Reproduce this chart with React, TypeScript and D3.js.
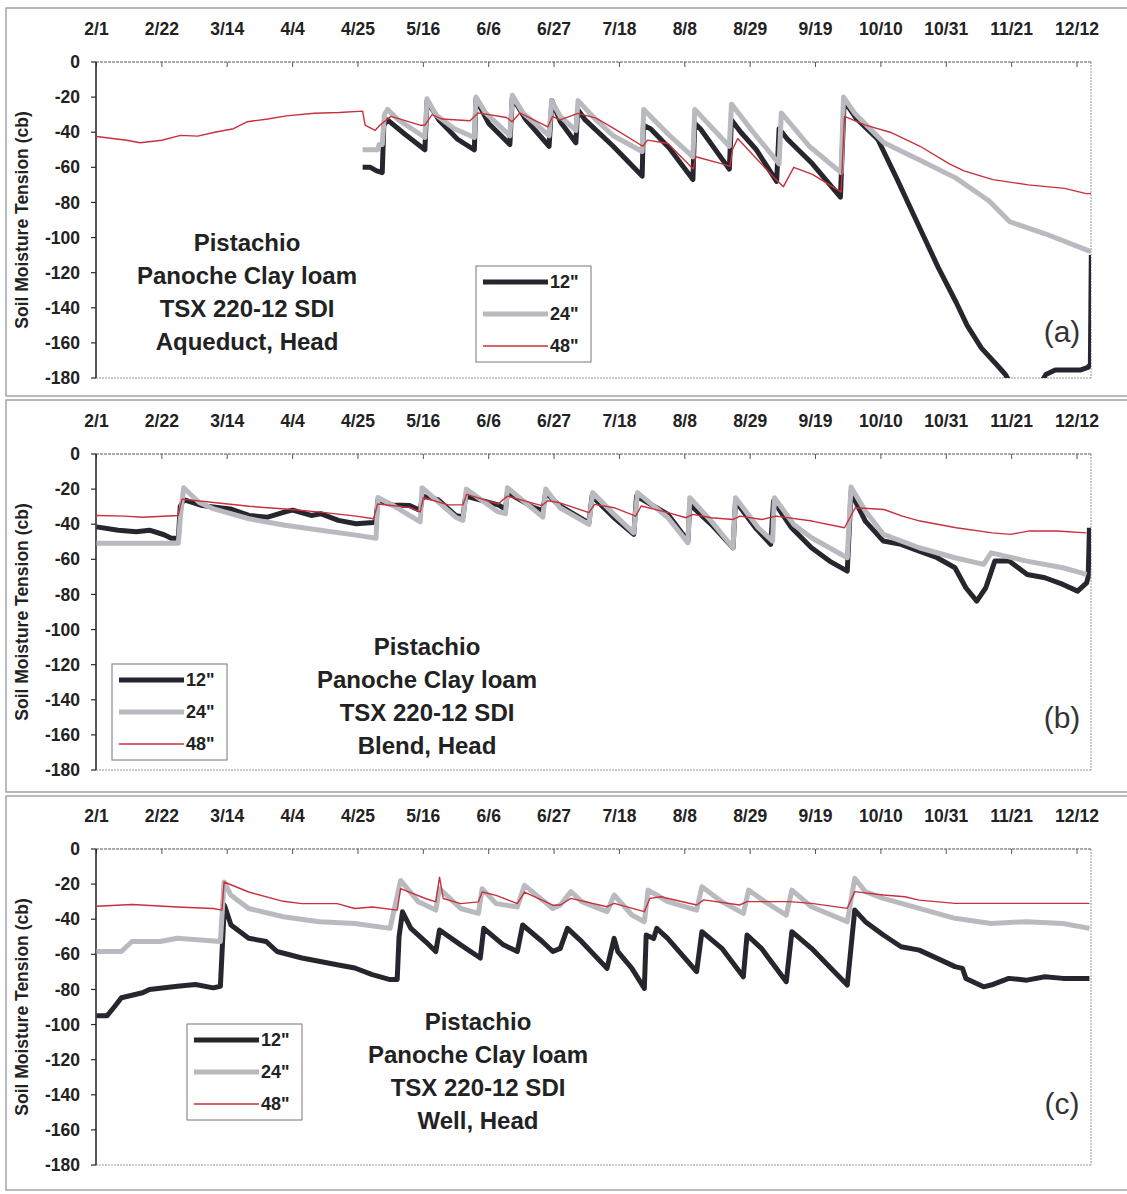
import * as d3 from "d3";

type Pt = [number, number];

// x axis: days after 2/1 (leap year), ticks every 21 days
const dayTicks = [0, 21, 42, 63, 84, 105, 126, 147, 168, 189, 210, 231, 252, 273, 294, 315];
const dayLabels = ["2/1", "2/22", "3/14", "4/4", "4/25", "5/16", "6/6", "6/27", "7/18", "8/8", "8/29", "9/19", "10/10", "10/31", "11/21", "12/12"];
const tensionTicks = [0, -20, -40, -60, -80, -100, -120, -140, -160, -180];
const depths = ['12"', '24"', '48"'];

// (a) Aqueduct, Head
const aqueduct12: Pt[] = [
  [85.5, -60], [88, -60], [90, -62], [91.8, -63], [92.3, -36], [93.5, -33], [99, -41], [105.5, -50], [106.2, -22],
  [110, -33], [116, -44], [121.4, -50], [121.9, -21], [126, -35], [132.8, -47], [133.6, -20], [138, -33], [145.4, -48],
  [146.3, -22], [149, -34], [154, -46], [154.6, -27], [157, -33], [166, -48], [175.3, -65], [175.7, -36], [178, -38],
  [184, -49], [191.6, -67], [192.2, -35], [194, -38], [203.3, -61], [204, -33], [207, -40], [212, -50], [218.5, -68],
  [219.3, -38], [222, -44], [230, -58], [239, -77], [240.2, -22], [244, -32], [251, -44], [257, -66], [264.6, -95],
  [270.4, -117], [276.2, -137], [279.7, -150], [284.3, -163], [289, -172], [292, -178], [294, -184], [303, -184],
  [305, -178], [308, -175.5], [316, -175.5], [318.5, -174], [319.3, -172], [319.6, -110],
];
const aqueduct24: Pt[] = [
  [85.5, -50], [90.3, -50], [90.8, -47], [91.8, -47], [92.5, -30], [93.5, -27], [97, -33], [105.5, -43], [106.2, -21],
  [109, -30], [115, -38], [121.4, -43], [121.9, -20], [125, -29], [132.8, -42], [133.6, -19], [137, -29], [145.4, -42],
  [146.2, -22], [149, -31], [154, -39], [154.7, -22], [160.5, -33], [166, -42], [175.3, -51], [175.8, -27], [183.6, -41],
  [191.6, -54], [192.2, -27], [203.3, -48], [204, -24], [211, -40], [219.3, -58], [220, -29], [229, -48], [239.2, -63],
  [240, -20], [243.5, -29], [253, -46], [264.6, -56], [276, -66], [286.7, -79], [293.4, -91], [305, -98], [318, -107],
  [319.5, -108],
];
const aqueduct48: Pt[] = [
  [0, -42.4], [9.7, -44.6], [14, -46], [21, -44.6], [27, -41.8], [32.5, -42.2], [38, -40], [44, -38], [48.5, -34],
  [55, -32.5], [61, -30.7], [70, -29.2], [78, -28.8], [85.5, -28], [86.3, -36], [89.5, -39], [91, -36], [94.6, -31],
  [104, -36], [105.5, -36], [107.8, -30], [111, -32.5], [120, -33.5], [122.6, -29], [131.7, -31.6], [133.5, -34],
  [136, -29], [145, -37], [146.5, -31], [148.9, -33], [154.7, -29.3], [160.5, -32], [166.3, -38], [175.5, -48],
  [177, -44.5], [183.6, -46.4], [191.7, -61], [192.5, -54], [201, -58], [203.5, -59.5], [204.3, -50], [206, -43.6],
  [218.3, -67], [220.7, -71], [224, -60], [230, -64], [239.2, -74], [240.3, -31], [247, -36], [255, -40], [264.6, -48],
  [274, -58], [278.7, -62], [288, -67], [299.4, -70], [311, -72], [318, -75], [319.5, -75],
];

// (b) Blend, Head
const blend12: Pt[] = [
  [0, -41.5], [7, -43.4], [12.8, -44.3], [17, -43.4], [21.7, -46], [24, -48], [26.3, -48], [26.9, -30], [28, -26],
  [34, -29.4], [43, -31.3], [49, -35], [55, -36], [60.6, -33], [63, -32], [69, -35], [72, -34], [77.7, -37.8],
  [83.4, -39.7], [89, -39], [89.8, -38], [90.4, -26], [95, -29], [100.6, -29.4], [104, -32.2], [104.7, -24],
  [109.7, -26], [115.4, -35], [117.7, -36], [118.6, -24], [129, -29], [131.4, -31.3], [132, -22], [140.3, -30.4],
  [143.4, -32.2], [144.3, -22], [148.9, -29.6], [158.2, -39.2], [159.2, -24], [166.3, -36.3], [172.6, -45.8],
  [173.5, -24], [183.6, -34.4], [190, -49.6], [190.6, -28.7], [197.5, -40.1], [204.5, -53.4], [205.3, -26.8],
  [211.7, -42], [216.6, -51.5], [217.5, -26.8], [223.3, -42], [229.7, -53.4], [235.5, -61], [241.2, -66.7],
  [242.4, -22], [247, -38.2], [252.8, -49.6], [258.5, -51.5], [264.3, -55.3], [270.1, -59.1], [275.8, -64.8],
  [279.3, -76.2], [282.8, -83.8], [285.7, -76.2], [288.6, -61], [293.2, -61], [299, -68.6], [304.7, -70.5],
  [310.5, -74.3], [315.2, -78.1], [318.1, -73.4], [318.6, -70], [319, -42],
];
const blend24: Pt[] = [
  [0, -50.8], [15, -50.8], [26.3, -50.8], [27, -35], [28, -19.2], [33, -27.6], [37.7, -31.3], [49, -36.9],
  [60.6, -40.6], [72, -43.4], [83.4, -46.2], [89.8, -48], [90.4, -24.8], [95, -29], [104, -38.7], [104.6, -19.2],
  [115.4, -36], [117.7, -37.8], [118.8, -20], [129, -33], [131.4, -34], [132, -19.2], [143.4, -36], [144.3, -20],
  [148.9, -30.6], [158.2, -40.1], [159.4, -22], [166.3, -34.4], [172.6, -44.9], [173.8, -22], [183.6, -36.3],
  [190, -50.6], [190.6, -24.9], [197.5, -38.2], [204.5, -53.4], [205.3, -24.9], [212.6, -42], [217.2, -49.6],
  [217.8, -24.9], [224, -40.1], [229.7, -47.7], [241.2, -59.1], [242.4, -18.8], [247, -32.5], [252.8, -45.8],
  [264.3, -53.4], [275.8, -59.1], [285, -62.9], [287.4, -56.3], [298.9, -61], [310.5, -64.8], [318.1, -68.6],
];
const blend48: Pt[] = [
  [0, -35], [9.1, -35.4], [14.9, -36], [26.3, -35], [26.9, -30], [27.5, -25.7], [37.7, -27.6], [49, -29.8],
  [60.6, -31.3], [72, -33.1], [83.4, -35.4], [89, -36.9], [90.3, -28.5], [100.6, -30.4], [104, -33], [105, -24.8],
  [113, -29], [117.7, -29], [118.9, -23], [129, -28.5], [132, -24], [143, -29.4], [145, -26.6], [148.9, -27.8],
  [158.2, -33.4], [160, -28.7], [166.3, -30.6], [173.2, -35.4], [175, -29.6], [183.6, -33.4], [189.4, -36.3],
  [191.7, -34.4], [197.5, -36.3], [204.5, -37.3], [206.8, -35.4], [213.7, -37.3], [218.3, -35.4], [229.9, -38.2],
  [240.3, -42], [243.8, -30.6], [253, -31.6], [258.9, -35.4], [264.6, -38.2], [276.2, -42], [287.8, -44.9],
  [293.6, -45.8], [299.4, -43.9], [308.6, -43.9], [318, -44.9],
];

// (c) Well, Head
const well12: Pt[] = [
  [0, -95], [3.4, -95], [5.7, -90], [8, -84.7], [14.8, -81.9], [17, -80], [26, -78.2], [31.8, -77.2], [37.5, -79.1],
  [39.8, -78.2], [40.3, -60], [41.1, -32], [43.2, -43.3], [48.9, -50.8], [54.5, -52.7], [58, -58.4], [66, -62.1],
  [77.3, -65.9], [83, -67.8], [88.6, -71.6], [94.3, -74.4], [96.6, -74.4], [97.2, -50], [98.3, -35.8], [101, -45.2],
  [105.7, -52.7], [109, -58.4], [110.2, -46.1], [117, -54.6], [123.3, -62.1], [124.4, -45.2], [130.7, -54.6],
  [135.2, -58.4], [136.9, -43.3], [143.2, -52.7], [146.6, -58.4], [149, -56.6], [151.3, -45.2], [155.9, -52.8],
  [164, -68], [166.3, -50.9], [167.5, -58.5], [172, -68], [176, -79.4], [176.6, -49], [179, -51], [180, -45.2],
  [183.5, -50.9], [192.8, -69.9], [194.5, -47.1], [200.9, -56.6], [207.8, -72.8], [209, -49], [213.6, -56.6],
  [221.6, -75.6], [223.4, -47.1], [229.7, -56.6], [241.2, -77.5], [243.6, -34.8], [247, -41.4], [252.8, -49],
  [258.5, -55.7], [264.3, -57.6], [270.1, -62.3], [275.8, -67], [278.2, -68], [279.3, -73.7], [285, -78.5],
  [287.4, -77.5], [293.1, -73.7], [298.9, -74.7], [304.7, -72.8], [310.5, -73.7], [319, -73.7],
];
const well24: Pt[] = [
  [0, -58.4], [8, -58.4], [11.4, -52.7], [20.5, -52.7], [26, -50.8], [39.8, -52.7], [41, -18.8], [43.2, -26.4],
  [48.9, -33.9], [60, -38.6], [71.6, -41.4], [83, -42.4], [94.3, -45.2], [97.7, -17.9], [103.4, -30.1], [109, -34.8],
  [110.2, -22.6], [117, -33.9], [122.7, -36.7], [123.9, -22.6], [128.4, -31.1], [135.2, -33], [137.5, -20.7],
  [146.6, -33.9], [149, -31.9], [152.4, -24.3], [155.9, -30], [164, -35.7], [166.3, -26.2], [172, -37.6],
  [176, -41.4], [177.2, -23.4], [180, -26.2], [183.5, -30], [192.8, -34.8], [194.5, -21.5], [200.9, -30],
  [207.8, -36.7], [209.5, -23.4], [214.7, -30], [221.6, -37.6], [223.4, -23.4], [229.7, -32.9], [241.2, -41.4],
  [243.6, -16.7], [247, -24.3], [252.8, -28.1], [264.3, -33.8], [275.8, -39.5], [287.4, -42.4], [298.9, -41.4],
  [310.5, -42.4], [319, -45.2],
];
const well48: Pt[] = [
  [0, -32.6], [11.4, -31.6], [26, -33], [37.5, -33.9], [40.3, -34.8], [41, -18.8], [48.9, -24.5], [60, -29.8],
  [66, -31.1], [77.3, -31.1], [83, -33.9], [88.6, -33], [96.6, -34.8], [97.7, -22.6], [105.7, -28.2], [109, -30.1],
  [110.2, -16], [111.4, -28.2], [117, -31.1], [122.7, -30.1], [123.9, -24.5], [128.4, -26.4], [135.2, -31.1],
  [137.5, -24.5], [146.6, -32], [149, -31.9], [152.4, -28.1], [164, -32.9], [166.3, -31], [176, -35.7],
  [177.8, -28.1], [181.3, -27.2], [192.8, -31.9], [195.1, -29], [206.6, -31.9], [209, -30], [222.8, -30],
  [229.7, -31], [241.2, -33.8], [243.6, -24.3], [252.8, -26.2], [259.7, -27.2], [264.3, -29.1], [275.8, -31],
  [287.4, -31], [319, -31],
];

const titleLines = ["Pistachio", "Panoche Clay loam", "TSX 220-12 SDI"];
const sources = ["Aqueduct, Head", "Blend, Head", "Well, Head"];
const panelTags = ["(a)", "(b)", "(c)"];

const FONT = "Arial, 'Liberation Sans', Helvetica, sans-serif";
const W = 1127;
const H = 1194;
const LEFT = 96;
const RIGHT = 1091;
const PLOT_H = 316;

const STYLES = [
  { stroke: "#26262e", width: 5 },
  { stroke: "#b9b9c0", width: 5 },
  { stroke: "#c7313b", width: 1.4 },
];

const layout = [
  { frameTop: 8, frameBottom: 396, top: 62, title: { x: 247, y: 243 }, legend: { x: 476, y: 266 }, tag: { x: 1062, y: 331 } },
  { frameTop: 400, frameBottom: 792, top: 454, title: { x: 427, y: 647 }, legend: { x: 112, y: 664 }, tag: { x: 1062, y: 717 } },
  { frameTop: 796, frameBottom: 1190, top: 849, title: { x: 478, y: 1022 }, legend: { x: 187, y: 1024 }, tag: { x: 1062, y: 1103 } },
];

const seriesSets: Pt[][][] = [
  [aqueduct12, aqueduct24, aqueduct48],
  [blend12, blend24, blend48],
  [well12, well24, well48],
];

function Panel({ idx }: { idx: number }) {
  const L = layout[idx];
  const x = d3.scaleLinear().domain([0, 319.5]).range([LEFT + 0.5, RIGHT]);
  const y = d3.scaleLinear().domain([0, -180]).range([L.top, L.top + PLOT_H]);
  const line = d3
    .line<Pt>()
    .x((d) => x(d[0]))
    .y((d) => y(d[1]));
  const bottom = L.top + PLOT_H;
  const clipId = `clip-${idx}`;
  const midY = L.top + PLOT_H / 2;
  const lines = [...titleLines, sources[idx]];

  return (
    <g>
      <rect x={6} y={L.frameTop} width={W + 20} height={L.frameBottom - L.frameTop} fill="none" stroke="#8d8d92" strokeWidth={1.2} />
      <defs>
        <clipPath id={clipId}>
          <rect x={LEFT} y={L.top} width={RIGHT - LEFT} height={PLOT_H} />
        </clipPath>
      </defs>
      {/* plot border: right and bottom dotted */}
      <line x1={RIGHT} x2={RIGHT} y1={L.top} y2={bottom} stroke="#9a9aa0" strokeDasharray="2,1" />
      <line x1={LEFT} x2={RIGHT} y1={bottom} y2={bottom} stroke="#9a9aa0" strokeDasharray="2,1" />
      {/* top x axis */}
      <line x1={LEFT} x2={RIGHT} y1={L.top} y2={L.top} stroke="#55555c" strokeWidth={1.2} strokeDasharray="3,1" />
      {dayTicks.map((d, i) => (
        <g key={d}>
          <line x1={x(d)} x2={x(d)} y1={L.top} y2={L.top + 5} stroke="#55555c" />
          <text x={x(d)} y={L.top - 27} textAnchor="middle" fontFamily={FONT} fontWeight="bold" fontSize={17.5} fill="#222">
            {dayLabels[i]}
          </text>
        </g>
      ))}
      {/* left y axis */}
      <line x1={LEFT} x2={LEFT} y1={L.top} y2={bottom} stroke="#2a2a30" strokeWidth={1.6} />
      {tensionTicks.map((v) => (
        <g key={v}>
          <line x1={LEFT - 5} x2={LEFT} y1={y(v)} y2={y(v)} stroke="#2a2a30" strokeWidth={1.2} />
          <text x={LEFT - 16} y={y(v)} dy="0.35em" textAnchor="end" fontFamily={FONT} fontWeight="bold" fontSize={17.5} fill="#222">
            {v}
          </text>
        </g>
      ))}
      <text
        transform={`translate(28,${midY}) rotate(-90)`}
        textAnchor="middle"
        fontFamily={FONT}
        fontWeight="bold"
        fontSize={17.5}
        fill="#222"
      >
        Soil Moisture Tension (cb)
      </text>
      {/* series */}
      <g clipPath={`url(#${clipId})`}>
        {seriesSets[idx].map((s, i) => (
          <path key={i} d={line(s) ?? ""} fill="none" stroke={STYLES[i].stroke} strokeWidth={STYLES[i].width} strokeLinejoin="round" />
        ))}
      </g>
      {/* title */}
      {lines.map((t, i) => (
        <text key={i} x={L.title.x} y={L.title.y + i * 33} dy="0.35em" textAnchor="middle" fontFamily={FONT} fontWeight="bold" fontSize={24} fill="#222">
          {t}
        </text>
      ))}
      {/* legend */}
      <g transform={`translate(${L.legend.x},${L.legend.y})`}>
        <rect x={0} y={0} width={115} height={96} fill="#fff" stroke="#77777d" strokeWidth={1} />
        {depths.map((dlab, i) => (
          <g key={dlab} transform={`translate(0,${16 + i * 32})`}>
            <line x1={7} x2={72} y1={0} y2={0} stroke={STYLES[i].stroke} strokeWidth={STYLES[i].width} />
            <text x={74} y={0} dy="0.35em" fontFamily={FONT} fontWeight="bold" fontSize={18} fill="#222">
              {dlab}
            </text>
          </g>
        ))}
      </g>
      <text x={L.tag.x} y={L.tag.y} dy="0.35em" textAnchor="middle" fontFamily={FONT} fontSize={30} fill="#333">
        {panelTags[idx]}
      </text>
    </g>
  );
}

export default function App() {
  return (
    <svg width={W} height={H} style={{ position: "absolute", left: 0, top: 0, background: "#fff" }}>
      <rect width={W} height={H} fill="#fff" />
      {layout.map((_, i) => (
        <Panel key={i} idx={i} />
      ))}
    </svg>
  );
}
